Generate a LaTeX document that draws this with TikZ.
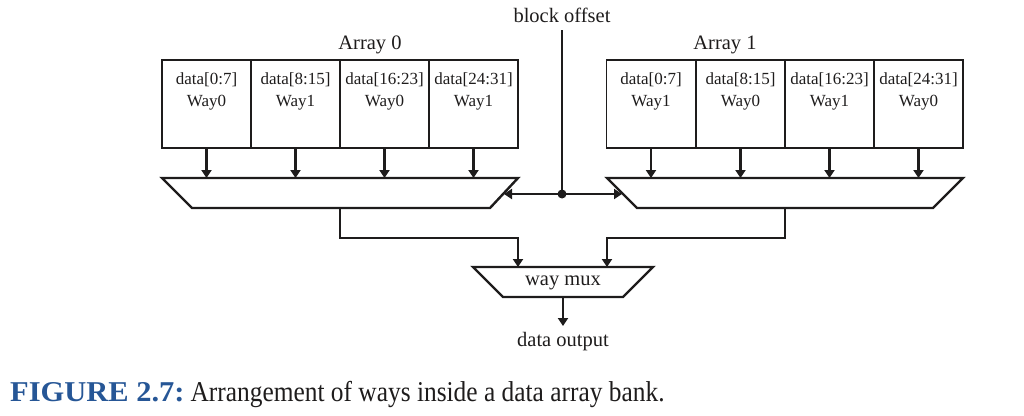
\documentclass[tikz,border=0pt]{standalone}
\usepackage{fontspec}
\setmainfont{Liberation Serif}
\usetikzlibrary{arrows.meta,calc}
\definecolor{capblue}{RGB}{38,86,150}
\definecolor{ink}{RGB}{30,28,28}
\newcommand{\cellfont}{\fontsize{17}{22}\selectfont}
\newcommand{\labfont}{\fontsize{20.5}{24}\selectfont}
\begin{document}
\begin{tikzpicture}[x=1pt,y=-1pt,
  cellbox/.style={draw=ink, line width=1.7pt, minimum width=89pt, minimum height=88pt, inner sep=0pt},
  celltext/.style={font=\cellfont, align=center, inner sep=0pt, text=ink},
  lab/.style={font=\labfont, inner sep=0pt, text=ink},
  muxline/.style={draw=ink, line width=2.4pt, line join=miter},
  wire/.style={draw=ink, line width=2.4pt},
  arr/.style={wire, -{Triangle[length=8pt,width=10pt]}},
]
\useasboundingbox (0,0) rectangle (1024,415);

% ---------- Array 0 ----------
\node[lab] (arr0) at (370,45) {Array 0};
\foreach \i/\x/\t/\w in {0/206.5/{data[0:7]}/Way0, 1/295.5/{data[8:15]}/Way1, 2/384.5/{data[16:23]}/Way0, 3/473.5/{data[24:31]}/Way1}{
  \node[cellbox] (a0c\i) at (\x,104) {};
  \node[celltext] (a0t\i) at (\x,91) {\t\\\w};
}
% ---------- Array 1 ----------
\node[lab] (arr1) at (725,45) {Array 1};
\foreach \i/\x/\t/\w in {0/651/{data[0:7]}/Way1, 1/740.5/{data[8:15]}/Way0, 2/829.5/{data[16:23]}/Way1, 3/918.5/{data[24:31]}/Way0}{
  \node[cellbox] (a1c\i) at (\x,104) {};
  \node[celltext] (a1t\i) at (\x,91) {\t\\\w};
}

% ---------- muxes ----------
\coordinate (m0tl) at (162,178); \coordinate (m0tr) at (518,178);
\coordinate (m0br) at (490,208); \coordinate (m0bl) at (192,208);
\draw[muxline] (m0tl) -- (m0tr) -- (m0br) -- (m0bl) -- cycle;
\coordinate (m1tl) at (607,178); \coordinate (m1tr) at (963,178);
\coordinate (m1br) at (933,208); \coordinate (m1bl) at (637,208);
\draw[muxline] (m1tl) -- (m1tr) -- (m1br) -- (m1bl) -- cycle;

\foreach \i in {0,1,2,3}{
  \draw[arr] (a0c\i.south) -- (a0c\i.south |- m0tl);
  \draw[arr] (a1c\i.south) -- (a1c\i.south |- m1tl);
}

% ---------- block offset ----------
\node[lab] (boff) at (562,15) {block offset};
\coordinate (btop) at (562,30);
\coordinate (junc) at (562,194);
\coordinate (m0in) at (504,194);
\coordinate (m1in) at (622,194);
\draw[wire] (btop) -- (junc);
\fill[ink] (junc) circle (4.5pt);
\draw[arr] (junc) -- (m0in);
\draw[arr] (junc) -- (m1in);

% ---------- way mux ----------
\coordinate (wtl) at (473,267); \coordinate (wtr) at (653,267);
\coordinate (wbr) at (623,297); \coordinate (wbl) at (503,297);
\draw[muxline] (wtl) -- (wtr) -- (wbr) -- (wbl) -- cycle;
\node[lab] (wmux) at (563,283) {way mux};

\coordinate (m0out) at (340,208);
\coordinate (m1out) at (785,208);
\coordinate (win0) at (518,267);
\coordinate (win1) at (607,267);
\draw[arr] (m0out) -- (340,238) -- (518,238) -- (win0);
\draw[arr] (m1out) -- (785,238) -- (607,238) -- (win1);

\coordinate (wout) at (563,297);
\node[lab] (dout) at (563,342) {data output};
\draw[arr] (wout) -- (563,326);

% ---------- caption ----------
\node[anchor=base west, inner sep=0pt] (cap) at (10,401.5)
  {\fontsize{25.4}{28}\selectfont\scalebox{1.2}[1.13]{\color{capblue}\bfseries FIGURE 2.7:}\hspace{6pt}\scalebox{1}[1.13]{\color{ink}Arrangement of ways inside a data array bank.}};
\end{tikzpicture}
\end{document}
